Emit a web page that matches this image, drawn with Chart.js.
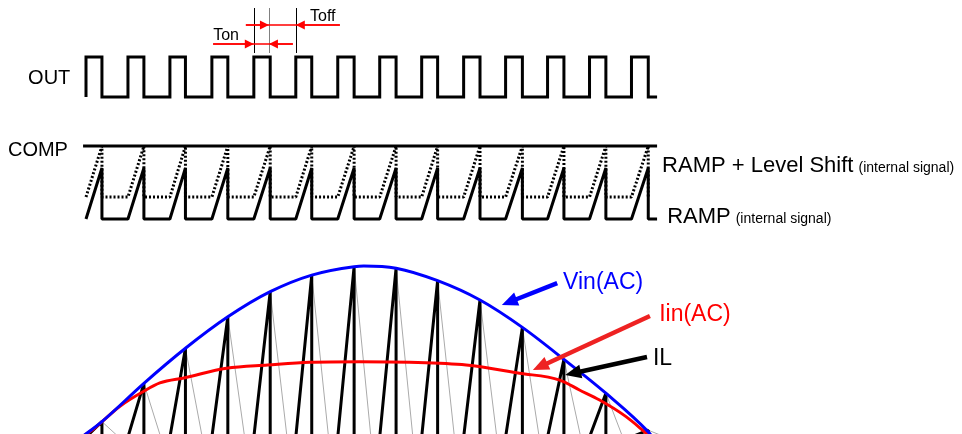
<!DOCTYPE html>
<html>
<head>
<meta charset="utf-8">
<script src="https://cdn.jsdelivr.net/npm/chart.js@4.4.0/dist/chart.umd.min.js"></script>
<style>
  html, body { margin: 0; padding: 0; background: #fff; }
</style>
</head>
<body>
<canvas id="chart" width="962" height="434"></canvas>
<script>
// switching edges of OUT, in switching periods
const riseT = [0, 1, 2, 3, 4, 5, 6, 7, 8, 9, 10, 11, 12, 13];
const fallT = [0.38, 1.38, 2.37, 3.38, 4.39, 5.38, 6.39, 7.39, 8.38, 9.39, 10.4, 11.39, 12.39, 13.4];
const endT = 13.61;

// RAMP levels (RAMP peak = 1)
const levelShift = 0.43;
const compLevel = 1.43;

// inductor current: peak at each turn-off (Vin peak = 1) and the moment it is back at zero
const ilPeak = [0.09, 0.314, 0.519, 0.703, 0.85, 0.947, 0.998, 0.987, 0.914, 0.801, 0.641, 0.454, 0.256, 0.04];
const ilZeroT = [0.78, 1.78, 2.77, 3.78, 4.79, 5.78, 6.79, 7.79, 8.78, 9.79, 10.8, 11.79, 12.79, 13.8];

// AC envelopes
const vinT = [-0.1, 0.38, 1.38, 2.37, 3.38, 4.39, 5.38, 6.39, 6.62, 7.39, 8.38, 9.39, 10.4, 11.39, 12.39, 13.4, 13.5];
const vinV = [0, 0.09, 0.314, 0.519, 0.703, 0.85, 0.947, 0.996, 1, 0.987, 0.914, 0.801, 0.641, 0.454, 0.256, 0.03, 0];
const iinT = [-0.1, 0.17, 0.81, 1.36, 1.76, 2.36, 3.35, 4.33, 5.33, 6.52, 7.71, 9.06, 10.33, 11.29, 11.76, 12.24, 12.87, 13.26, 13.45];
const iinV = [0, 0.045, 0.18, 0.265, 0.316, 0.347, 0.402, 0.421, 0.437, 0.44, 0.437, 0.421, 0.373, 0.333, 0.275, 0.216, 0.119, 0.041, 0];

const W = 962, H = 434;
const FONT = '"Liberation Sans", Arial, sans-serif';

// value 0 sits at p0 px, value 1 at p1 px
function band(p0, p1) {
  const ppu = p0 - p1;
  const max = p0 / ppu;
  return { display: false, min: max - H / ppu, max: max };
}

function outPoints() {
  const pts = [];
  riseT.forEach((t, i) => {
    pts.push({x: t, y: 0}, {x: t, y: 1}, {x: fallT[i], y: 1}, {x: fallT[i], y: 0});
  });
  pts.push({x: endT, y: 0});
  return pts;
}

function sawPoints(base, peaks, tail) {
  const pts = [];
  riseT.forEach((t, i) => {
    const top = Array.isArray(peaks) ? peaks[i] : peaks;
    pts.push({x: t, y: base}, {x: fallT[i], y: base + top}, {x: fallT[i], y: base});
  });
  if (tail) pts.push({x: endT, y: base});
  return pts;
}

function decayPoints() {
  const pts = [];
  fallT.forEach((t, i) => {
    pts.push({x: t, y: ilPeak[i]}, {x: ilZeroT[i], y: 0}, {x: ilZeroT[i], y: null});
  });
  return pts;
}

function zip(xs, ys) {
  return xs.map((x, i) => ({x: x, y: ys[i]}));
}

function arrow(ctx, x1, y1, x2, y2, color, lw, len, half) {
  const a = Math.atan2(y2 - y1, x2 - x1);
  const bx = x2 - Math.cos(a) * len, by = y2 - Math.sin(a) * len;
  ctx.strokeStyle = color;
  ctx.fillStyle = color;
  ctx.lineWidth = lw;
  ctx.beginPath();
  ctx.moveTo(x1, y1);
  ctx.lineTo(bx + Math.cos(a), by + Math.sin(a));
  ctx.stroke();
  ctx.beginPath();
  ctx.moveTo(x2, y2);
  ctx.lineTo(bx - Math.sin(a) * half, by + Math.cos(a) * half);
  ctx.lineTo(bx + Math.sin(a) * half, by - Math.cos(a) * half);
  ctx.closePath();
  ctx.fill();
}

// labels and arrows, placed in data units
const notes = {
  id: 'notes',
  afterDatasetsDraw(chart) {
    const ctx = chart.ctx;
    const sx = chart.scales.x, so = chart.scales.yOut, sr = chart.scales.yRamp, sa = chart.scales.yAC;
    const X = t => sx.getPixelForValue(t);
    ctx.save();

    // Ton / Toff markers
    [[4.0, '#000'], [4.36, '#808080'], [5.0, '#000']].forEach(([t, c]) => {
      ctx.strokeStyle = c;
      ctx.lineWidth = 1;
      ctx.beginPath();
      ctx.moveTo(Math.round(X(t)) + 0.5, so.getPixelForValue(2.225));
      ctx.lineTo(Math.round(X(t)) + 0.5, so.getPixelForValue(1.1));
      ctx.stroke();
    });
    const red = '#ff0000';
    const yOff = so.getPixelForValue(1.8), yOn = so.getPixelForValue(1.325);
    ctx.strokeStyle = red; ctx.lineWidth = 1.5;
    ctx.beginPath();
    ctx.moveTo(X(3.81), yOff); ctx.lineTo(X(6.05), yOff);
    ctx.moveTo(X(3.03), yOn); ctx.lineTo(X(4.93), yOn);
    ctx.stroke();
    arrow(ctx, X(3.81), yOff, X(4.36), yOff, red, 1.5, 9, 4.5);
    arrow(ctx, X(6.05), yOff, X(5.0), yOff, red, 1.5, 9, 4.5);
    arrow(ctx, X(3.03), yOn, X(4.0), yOn, red, 1.5, 9, 4.5);
    arrow(ctx, X(4.93), yOn, X(4.36), yOn, red, 1.5, 9, 4.5);

    ctx.textBaseline = 'alphabetic';
    ctx.textAlign = 'left';
    ctx.fillStyle = '#000';
    ctx.font = '16px ' + FONT;
    ctx.fillText('Ton', X(3.03), so.getPixelForValue(1.425));
    ctx.fillText('Toff', X(5.34), so.getPixelForValue(1.9));

    ctx.font = '20px ' + FONT;
    ctx.fillText('OUT', X(-1.38), so.getPixelForValue(0.325));
    ctx.fillText('COMP', X(-1.86), sr.getPixelForValue(1.235));

    const twoPart = (big, small, x, y) => {
      ctx.font = '22px ' + FONT;
      ctx.fillText(big, x, y);
      const w = ctx.measureText(big).width;
      ctx.font = '14px ' + FONT;
      ctx.fillText(small, x + w + 5, y);
    };
    twoPart('RAMP + Level Shift', '(internal signal)', X(13.73), sr.getPixelForValue(0.92));
    twoPart('RAMP', '(internal signal)', X(13.85), sr.getPixelForValue(-0.08));

    // AC labels with arrows
    const A = (t, v) => [X(t), sa.getPixelForValue(v)];
    arrow(ctx, ...A(11.23, 0.9), ...A(9.91, 0.772), '#0000ff', 4.5, 16, 7);
    arrow(ctx, ...A(13.44, 0.708), ...A(10.65, 0.392), '#ee2222', 4.5, 16, 7);
    arrow(ctx, ...A(13.37, 0.468), ...A(11.42, 0.363), '#000', 4.5, 16, 7);
    ctx.font = '23px ' + FONT;
    ctx.fillStyle = '#0000ff';
    ctx.fillText('Vin(AC)', ...A(11.37, 0.865));
    ctx.fillStyle = '#ff0000';
    ctx.fillText('Iin(AC)', ...A(13.66, 0.678));
    ctx.fillStyle = '#000';
    ctx.fillText('IL', ...A(13.51, 0.421));
    ctx.restore();
  }
};

const line = (data, yAxisID, color, width, order, extra) => Object.assign({
  data: data, yAxisID: yAxisID, xAxisID: 'x',
  borderColor: color, borderWidth: width, order: order,
  pointRadius: 0, fill: false, tension: 0,
  borderJoinStyle: 'bevel'
}, extra || {});

new Chart(document.getElementById('chart'), {
  type: 'line',
  data: {
    datasets: [
      line(outPoints(), 'yOut', '#000', 3, 0, {borderJoinStyle: 'miter'}),
      line([{x: -0.07, y: compLevel}, {x: endT, y: compLevel}], 'yRamp', '#000', 3, 0),
      line(sawPoints(0, 1, true), 'yRamp', '#000', 3, 1),
      line(sawPoints(levelShift, 1, false), 'yRamp', '#000', 3, 2, {borderDash: [2, 2]}),
      line(zip(vinT, vinV), 'yAC', '#0000ff', 3, 3, {cubicInterpolationMode: 'monotone', tension: 0.4, borderJoinStyle: 'round'}),
      line(zip(iinT, iinV), 'yAC', '#ff0000', 3, 4, {cubicInterpolationMode: 'monotone', tension: 0.4, borderJoinStyle: 'round'}),
      line(sawPoints(0, ilPeak, false), 'yAC', '#000', 3, 5),
      line(decayPoints(), 'yAC', '#aaaaaa', 1, 6)
    ]
  },
  options: {
    responsive: false,
    animation: false,
    layout: { padding: 0 },
    plugins: { legend: { display: false }, tooltip: { enabled: false } },
    elements: { line: { borderCapStyle: 'butt' } },
    scales: {
      x: { type: 'linear', display: false, min: -86 / 41.96, max: (W - 86) / 41.96 },
      yOut: band(97, 57),
      yRamp: band(219, 168),
      yAC: band(437, 266)
    }
  },
  plugins: [notes]
});
</script>
</body>
</html>
